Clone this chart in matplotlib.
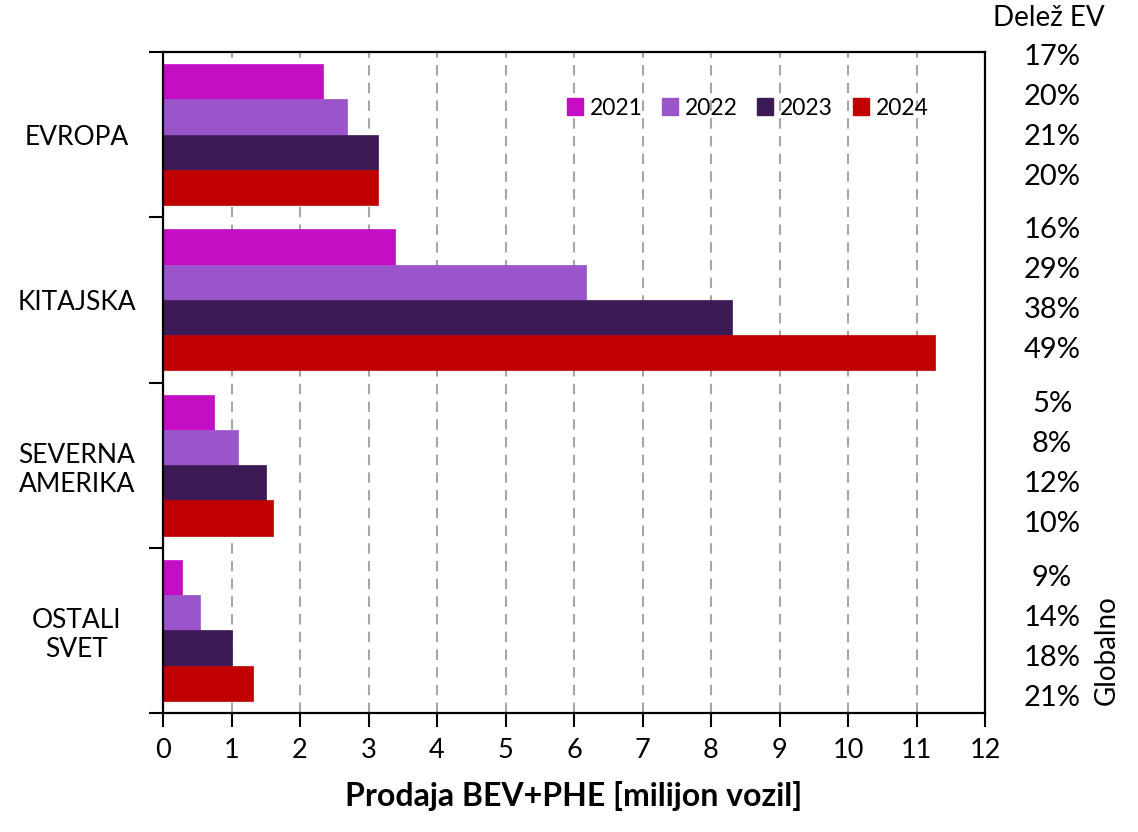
import matplotlib
matplotlib.use("Agg")
import matplotlib.pyplot as plt
import numpy as np
from matplotlib.patches import Patch

plt.rcParams['font.family'] = ['Lato', 'DejaVu Sans']

categories = ["EVROPA", "KITAJSKA", "SEVERNA\nAMERIKA", "OSTALI\nSVET"]
years = ["2021", "2022", "2023", "2024"]
sales = {
    "2021": [2.33, 3.39, 0.75, 0.28],
    "2022": [2.68, 6.18, 1.10, 0.54],
    "2023": [3.14, 8.31, 1.51, 1.00],
    "2024": [3.14, 11.27, 1.60, 1.31],
}
shares = [
    ["17%", "20%", "21%", "20%"],
    ["16%", "29%", "38%", "49%"],
    ["5%", "8%", "12%", "10%"],
    ["9%", "14%", "18%", "21%"],
]
colors = ["#C40EC4", "#9955C9", "#3C1A56", "#C00000"]
xticks = list(range(0, 13))

W, H = 1138, 832
fig = plt.figure(figsize=(W / 100, H / 100), dpi=100)
ax = fig.add_axes([163 / W, 1 - 713 / H, (985 - 163) / W, (713 - 52) / H])

n = len(years)
h = 0.2135
y = np.arange(len(categories))
for i, yr in enumerate(years):
    ax.barh(y + (i - (n - 1) / 2) * h, sales[yr], height=h, color=colors[i],
            edgecolor=colors[i], linewidth=0.5, zorder=3)

ax.set_xlim(0, 12)
ax.set_ylim(len(categories) - 0.5, -0.5)
ax.set_xticks(xticks)
ax.set_xticklabels([str(v) for v in xticks], fontsize=19.5)
ax.set_yticks(y)
ax.set_yticklabels(categories, fontsize=19, multialignment='center', ha='center')
ax.set_yticks(np.arange(-0.5, len(categories), 1.0), minor=True)
ax.tick_params(axis='y', which='major', length=0, pad=62)
ax.tick_params(axis='y', which='minor', length=10, width=1.5, direction='out')
ax.tick_params(axis='x', which='major', length=10, width=1.5, direction='out', pad=8)

ax.grid(axis='x', color='#A6A6A6', linestyle=(0, (5, 3.5)), linewidth=1.5, zorder=0)
ax.set_axisbelow(True)
for s in ax.spines.values():
    s.set_linewidth(1.6)
    s.set_zorder(4)

ax.set_xlabel("Prodaja BEV+PHE [milijon vozil]", fontsize=23, fontweight='bold',
              labelpad=13)

handles = [Patch(facecolor=c, edgecolor=c) for c in colors]
leg = ax.legend(handles, years, ncol=4, loc='upper left', bbox_to_anchor=(0.48, 0.945),
                frameon=False, fontsize=16.5, handlelength=0.7, handleheight=0.7,
                handletextpad=0.3, columnspacing=0.85, borderaxespad=0)

# EV share labels
for g, row in enumerate(shares):
    for i, s in enumerate(row):
        yp = 57 + g * 173.5 + i * 40
        fig.text(1052 / W, 1 - yp / H, s, ha='center', va='center', fontsize=21)
fig.text(1049 / W, 1 - 18 / H, "Delež EV", ha='center', va='center', fontsize=20)
fig.text(1107 / W, 1 - 650 / H, "Globalno", ha='center', va='center', fontsize=20,
         rotation=90)

fig.savefig("out.png", dpi=100, facecolor='white')
